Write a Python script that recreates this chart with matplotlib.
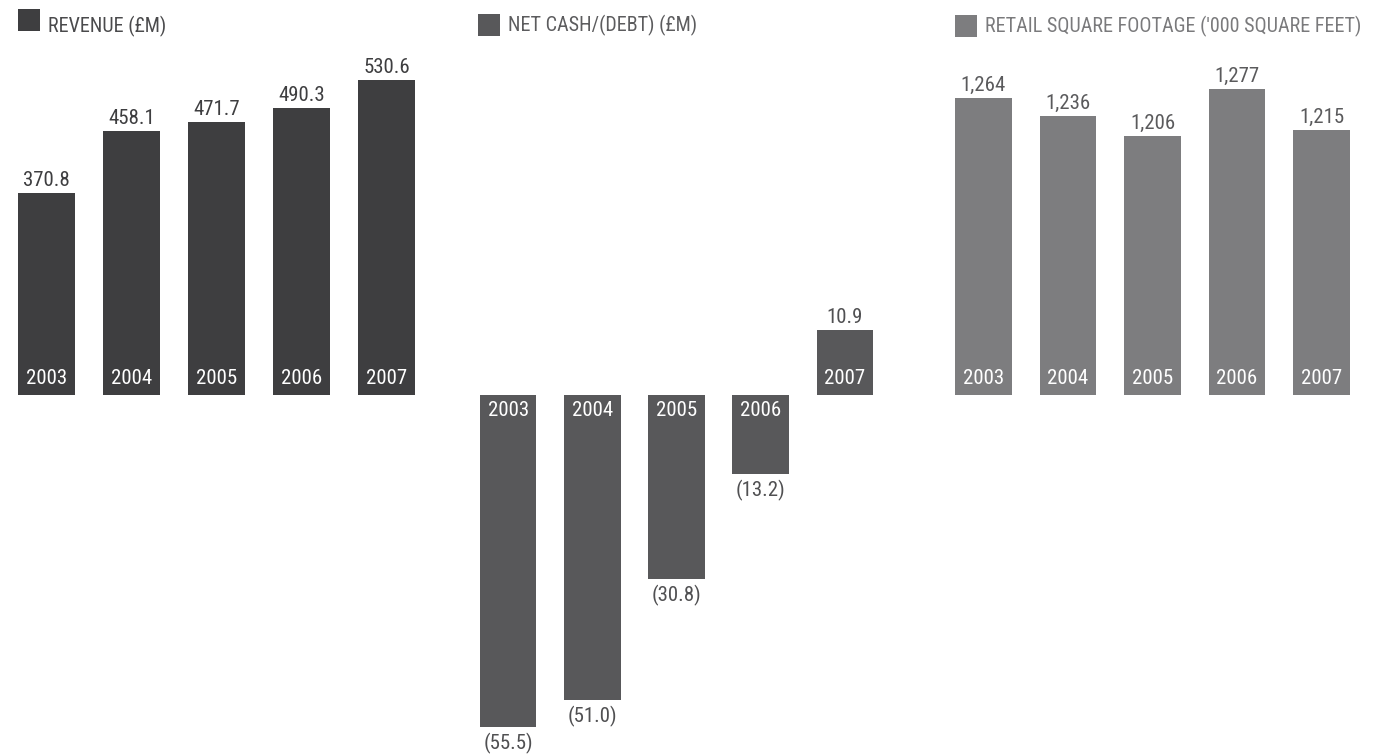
import matplotlib
matplotlib.use("Agg")
import matplotlib.pyplot as plt
from matplotlib.patches import Rectangle

# Data
years = ["2003", "2004", "2005", "2006", "2007"]
revenue = [370.8, 458.1, 471.7, 490.3, 530.6]
net_cash = [-55.5, -51.0, -30.8, -13.2, 10.9]
footage = [1264, 1236, 1206, 1277, 1215]

titles = ["REVENUE (£M)", "NET CASH/(DEBT) (£M)", "RETAIL SQUARE FOOTAGE ('000 SQUARE FEET)"]
colors = ["#3e3e40", "#58585a", "#7d7d7f"]
title_colors = ["#4a4a4c", "#5c5c5e", "#7a7a7c"]
value_colors = ["#3e3e40", "#505052", "#5a5a5c"]

plt.rcParams["font.family"] = ["Roboto Condensed", "Archivo Narrow", "PT Sans Narrow",
                               "IBM Plex Sans Condensed", "DejaVu Sans"]

W, H = 1373, 755
FS = 15
TFS = 14.5
fig = plt.figure(figsize=(W / 100, H / 100), dpi=100)


def px_rect(x0, y0, x1, y1):
    return [x0 / W, (H - y1) / H, (x1 - x0) / W, (y1 - y0) / H]


def header(x, y, ty, text, color, tcolor):
    fig.add_artist(Rectangle((x / W, 1 - (y + 22) / H), 22 / W, 22 / H,
                             transform=fig.transFigure, color=color, lw=0))
    fig.text((x + 30) / W, 1 - ty / H, text, color=tcolor, fontsize=TFS,
             va="center", ha="left")


def panel(rect, values, ylim, base, color, vcolor, fmt):
    ax = fig.add_axes(rect)
    ax.set_xlim(-0.335, 4.335)
    ax.set_ylim(*ylim)
    ax.bar(range(len(values)), values, width=0.67, color=color, lw=0)
    ax.axis("off")
    for i, (v, yr) in enumerate(zip(values, years)):
        if v >= 0:
            ax.annotate(yr, (i, base), xytext=(0, 17), textcoords="offset pixels",
                        ha="center", va="center", color="white", fontsize=FS)
            ax.annotate(fmt(v), (i, v), xytext=(0, 3), textcoords="offset pixels",
                        ha="center", va="bottom", color=vcolor, fontsize=FS)
        else:
            ax.annotate(yr, (i, 0), xytext=(0, -16), textcoords="offset pixels",
                        ha="center", va="center", color="white", fontsize=FS)
            ax.annotate(fmt(v), (i, v), xytext=(0, -6), textcoords="offset pixels",
                        ha="center", va="top", color=vcolor, fontsize=FS)
    return ax


def money(v):
    return f"{v:.1f}" if v >= 0 else f"({abs(v):.1f})"


panel(px_rect(18, 40, 415, 395), revenue, (85, 85 + 355 / 0.707), 85,
      colors[0], value_colors[0], money)
panel(px_rect(480, 40, 873, 740), net_cash, (-345 / 5.98, 355 / 5.98), 0,
      colors[1], value_colors[1], money)
panel(px_rect(955, 40, 1350, 395), footage, (810, 810 + 355 / 0.655), 810,
      colors[2], value_colors[2], lambda v: f"{v:,}")

header(18, 9, 26, titles[0], colors[0], title_colors[0])
header(478, 14, 25.5, titles[1], colors[1], title_colors[1])
header(955, 15, 26.5, titles[2], colors[2], title_colors[2])

fig.savefig("out.png", dpi=100)
